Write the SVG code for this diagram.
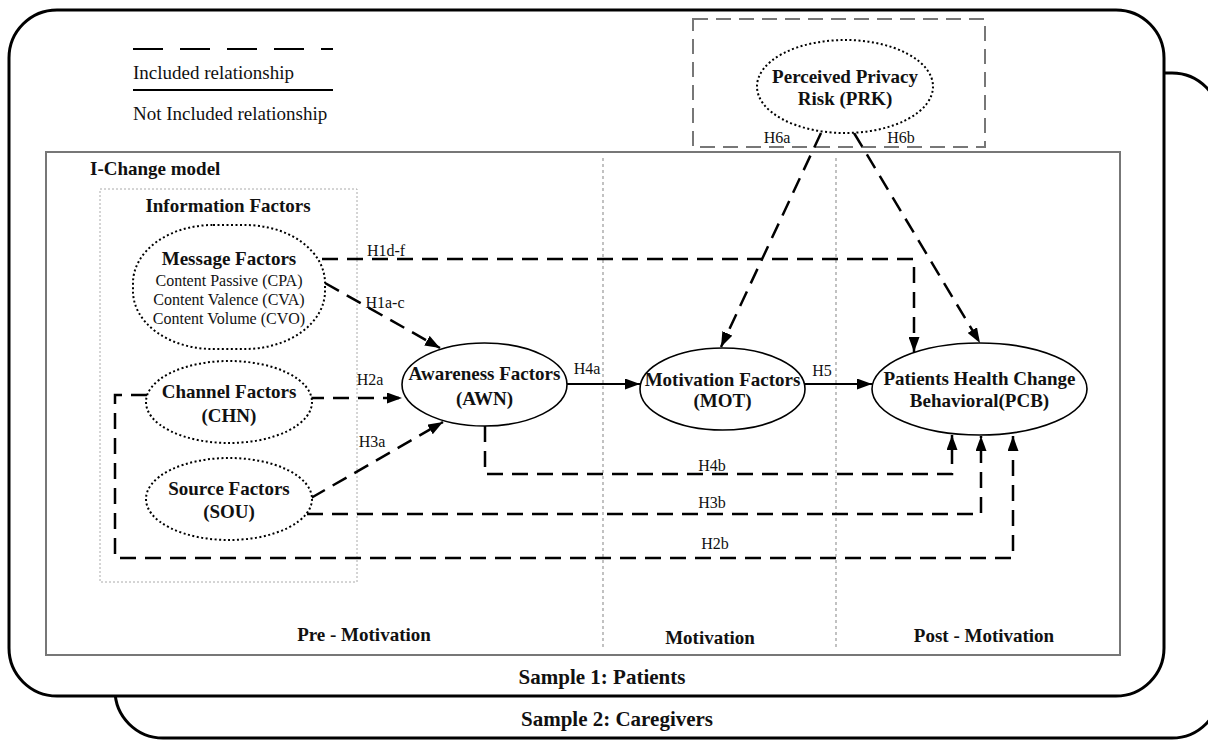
<svg xmlns="http://www.w3.org/2000/svg" width="1208" height="740" viewBox="0 0 1208 740">
  <style>
    text { font-family: "Liberation Serif", "Times New Roman", serif; fill: #111; }
    .b { font-weight: bold; }
    .node-title { font-size: 19px; font-weight: bold; text-anchor: middle; }
    .sub { font-size: 16px; text-anchor: middle; }
    .lbl { font-size: 16px; text-anchor: middle; }
    .phase { font-size: 19px; font-weight: bold; text-anchor: middle; }
    .sample { font-size: 21px; font-weight: bold; text-anchor: middle; }
    .frame { fill: none; stroke: #000; stroke-width: 3; }
    .solid-node { fill: #fff; stroke: #000; stroke-width: 1.6; }
    .dot-node { fill: #fff; stroke: #000; stroke-width: 2; stroke-dasharray: 2 2.5; }
    .dash { fill: none; stroke: #000; stroke-width: 2.5; stroke-dasharray: 16 9; }
    .line { fill: none; stroke: #000; stroke-width: 2; }
    .phase-div { stroke: #999; stroke-width: 1.2; stroke-dasharray: 3 3; }
  </style>
  <defs>
    <marker id="arrow" markerUnits="userSpaceOnUse" markerWidth="15" markerHeight="11" refX="15" refY="5.5" orient="auto">
      <path d="M0,0 L15,5.5 L0,11 z" fill="#000" stroke="none"/>
    </marker>
  </defs>

  <rect width="1208" height="740" fill="#fff"/>

  <!-- Sample frames -->
  <g id="sample2">
    <rect class="frame" x="115" y="73" width="1105" height="665" rx="48" ry="48"/>
  </g>
  <g id="sample1">
    <rect x="9" y="10" width="1155" height="686" rx="48" ry="48" fill="#fff" stroke="#000" stroke-width="3"/>
  </g>
  <text class="sample" x="602" y="684">Sample 1: Patients</text>
  <text class="sample" x="617" y="726">Sample 2: Caregivers</text>

  <!-- Legend -->
  <g id="legend">
    <line x1="133" y1="49" x2="333" y2="49" stroke="#000" stroke-width="2.2" stroke-dasharray="30 17"/>
    <text x="133" y="78.5" font-size="19">Included relationship</text>
    <line x1="133" y1="90" x2="333" y2="90" stroke="#000" stroke-width="2.2"/>
    <text x="133" y="119.5" font-size="19">Not Included relationship</text>
  </g>

  <!-- I-Change model frame -->
  <g id="ichange-model">
    <rect x="46" y="152" width="1074" height="503" fill="none" stroke="#777" stroke-width="2"/>
    <text class="b" x="90" y="174.5" font-size="19">I-Change model</text>
    <line class="phase-div" x1="603" y1="158" x2="603" y2="648"/>
    <line class="phase-div" x1="836" y1="158" x2="836" y2="648"/>
    <text class="phase" x="364" y="641">Pre - Motivation</text>
    <text class="phase" x="710" y="644">Motivation</text>
    <text class="phase" x="984" y="642">Post - Motivation</text>
  </g>

  <!-- Information factors group -->
  <g id="information-factors">
    <rect x="100" y="189" width="257" height="393" fill="none" stroke="#aaa" stroke-width="1" stroke-dasharray="2 2"/>
    <text class="phase" x="228" y="212" font-size="20">Information Factors</text>
  </g>

  <!-- Privacy risk group -->
  <g id="privacy-group">
    <rect x="693" y="19" width="292" height="128" fill="none" stroke="#777" stroke-width="2" stroke-dasharray="15 8"/>
  </g>

  <!-- Connectors -->
  <g id="connectors">
    <path class="dash" d="M322,259 H914 V352" marker-end="url(#arrow)"/>
    <path class="dash" d="M325,283 L440,348" marker-end="url(#arrow)"/>
    <path class="dash" d="M308,398 L402,398" marker-end="url(#arrow)"/>
    <path class="dash" d="M311,498 L443,422" marker-end="url(#arrow)"/>
    <path class="dash" d="M147,395 H115 V558 H1013 V436" marker-end="url(#arrow)"/>
    <path class="dash" d="M307,514 H981 V436" marker-end="url(#arrow)"/>
    <path class="dash" d="M485,426 V474 H952 V435" marker-end="url(#arrow)"/>
    <path class="line" d="M567,384 L640,384" marker-end="url(#arrow)"/>
    <path class="line" d="M805,384 L872,384" marker-end="url(#arrow)"/>
    <path class="dash" d="M821,133 L721,347" marker-end="url(#arrow)"/>
    <path class="dash" d="M854,133 L980,343" marker-end="url(#arrow)"/>

    <text class="lbl" x="386" y="255.5">H1d-f</text>
    <text class="lbl" x="385" y="307.5">H1a-c</text>
    <text class="lbl" x="370" y="384.5">H2a</text>
    <text class="lbl" x="372" y="446.5">H3a</text>
    <text class="lbl" x="587" y="373.5">H4a</text>
    <text class="lbl" x="822" y="375.5">H5</text>
    <text class="lbl" x="712" y="470.5">H4b</text>
    <text class="lbl" x="712" y="507.5">H3b</text>
    <text class="lbl" x="715" y="548.5">H2b</text>
    <text class="lbl" x="777" y="142.5">H6a</text>
    <text class="lbl" x="901" y="142.5">H6b</text>
  </g>

  <!-- Nodes -->
  <g id="node-message">
    <rect class="dot-node" x="133" y="225" width="192" height="124" rx="80" ry="58"/>
    <text class="node-title" x="229" y="264.5">Message Factors</text>
    <text class="sub" x="229" y="285.5">Content Passive (CPA)</text>
    <text class="sub" x="229" y="304.5">Content Valence (CVA)</text>
    <text class="sub" x="229" y="323.5">Content Volume (CVO)</text>
  </g>

  <g id="node-channel">
    <ellipse class="dot-node" cx="229" cy="402" rx="83" ry="41"/>
    <text class="node-title" x="229" y="398">Channel Factors</text>
    <text class="node-title" x="229" y="422">(CHN)</text>
  </g>

  <g id="node-source">
    <ellipse class="dot-node" cx="229" cy="499" rx="83" ry="41"/>
    <text class="node-title" x="229" y="494.5">Source Factors</text>
    <text class="node-title" x="229" y="517.5">(SOU)</text>
  </g>

  <g id="node-awareness">
    <ellipse class="solid-node" cx="484.5" cy="384.5" rx="82.5" ry="41.5"/>
    <text class="node-title" x="484.5" y="379.5">Awareness Factors</text>
    <text class="node-title" x="484.5" y="404.5">(AWN)</text>
  </g>

  <g id="node-motivation">
    <ellipse class="solid-node" cx="722.5" cy="389" rx="82.5" ry="41"/>
    <text class="node-title" x="722.5" y="385.5">Motivation Factors</text>
    <text class="node-title" x="722.5" y="406.5">(MOT)</text>
  </g>

  <g id="node-behaviour">
    <ellipse class="solid-node" cx="979.5" cy="389" rx="107.5" ry="46"/>
    <text class="node-title" x="979.5" y="384.5">Patients Health Change</text>
    <text class="node-title" x="979.5" y="406.5">Behavioral(PCB)</text>
  </g>

  <g id="node-privacy">
    <ellipse class="dot-node" cx="845" cy="86.5" rx="88" ry="46.5"/>
    <text class="node-title" x="845" y="82.5">Perceived Privacy</text>
    <text class="node-title" x="845" y="104.5">Risk (PRK)</text>
  </g>
</svg>
